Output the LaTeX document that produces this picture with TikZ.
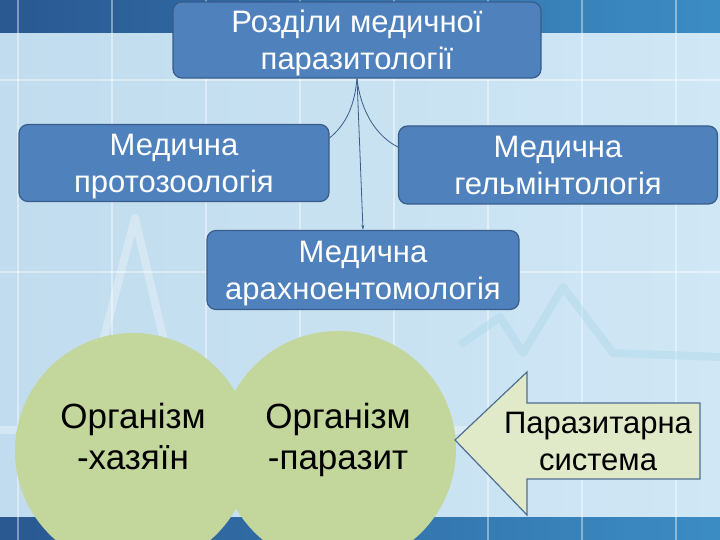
\documentclass[tikz,border=0pt]{standalone}
\usepackage{fontspec}
\setmainfont{Liberation Sans}
\usetikzlibrary{arrows.meta}

\definecolor{boxblue}{RGB}{79,129,189}
\definecolor{boxedge}{RGB}{56,93,138}
\definecolor{organgreen}{RGB}{195,214,155}
\definecolor{arrowfill}{RGB}{224,234,200}
\definecolor{arrowedge}{RGB}{79,110,146}
\definecolor{skylight}{RGB}{208,231,245}
\definecolor{skymid}{RGB}{192,220,238}
\definecolor{banddark}{RGB}{42,88,145}
\definecolor{bandlight}{RGB}{60,140,196}
\definecolor{wavecyan}{RGB}{170,215,232}

\tikzset{
  branch/.style={rectangle, rounded corners=9pt, fill=boxblue, draw=boxedge,
    line width=1.2pt, text=white, align=center, font=\fontsize{31}{37}\selectfont},
  organ/.style={circle, fill=organgreen, minimum size=236pt, inner sep=0pt},
  organtext/.style={align=center, font=\fontsize{35}{41}\selectfont},
  link/.style={draw=boxedge, line width=0.8pt}
}

\begin{document}
\begin{tikzpicture}[x=1pt, y=-1pt]
\useasboundingbox (0,0) rectangle (720,540);

  % background
  \shade[left color=skymid, right color=skylight] (0,0) rectangle (720,540);
  \shade[left color=banddark, right color=bandlight] (0,0) rectangle (720,33);
  \shade[left color=banddark, right color=bandlight] (0,517) rectangle (720,540);
  \foreach \x in {18, 112, ..., 720} {%
    \draw[white, opacity=0.4, line width=1.5pt] (\x,0) -- (\x,540);
  }
  \foreach \y in {80, 272} {%
    \draw[white, opacity=0.4, line width=1.5pt] (0,\y) -- (720,\y);
  }
  \draw[white, opacity=0.3, line width=8pt, line join=round]
    (0,430) -- (80,430) -- (135,218) -- (185,430) -- (480,430);
  \draw[wavecyan, opacity=0.4, line width=8pt, line join=round]
    (460,345) -- (500,317) -- (523,353) -- (563,287) -- (613,353) -- (720,357);

  % sections
  \node[branch, minimum width=368pt, minimum height=76pt] (root) at (357,40)
    {Розділи медичної\\\smash{паразитології}};
  \node[branch, minimum width=310pt, minimum height=77pt] (proto) at (174,163)
    {Медична\\\smash{протозоологія}};
  \node[branch, minimum width=319pt, minimum height=78pt] (helm) at (558,165)
    {Медична\\гельмінтологія};
  \node[branch, minimum width=312pt, minimum height=79pt] (arach) at (363,270)
    {Медична\\\smash{арахноентомологія}};

  \draw[link] (root.south) .. controls +(-3,32) and +(14,-12) .. ([yshift=25pt]proto.east);
  \draw[link] (root.south) .. controls +(4,35) and +(-20,-10) .. ([yshift=18pt]helm.west);
  \draw[link, -{Stealth[length=5pt, width=3pt]}] (root.south) -- (arach.north);

  % host and parasite
  \node[organ] (host) at (133,451) {};
  \node[organ] (parasite) at (338,449) {};
  \node[organtext] (hostlbl) at (133,436) {Організм\\-хазяїн};
  \node[organtext] (parasitelbl) at (338,436) {Організм\\\smash{-паразит}};

  \filldraw[fill=arrowfill, draw=arrowedge, line width=1.2pt]
    (455,440) -- (527,372) -- (527,403) -- (700,403) -- (700,479)
    -- (527,479) -- (527,515) -- cycle;
  \node[align=center, font=\fontsize{31}{37}\selectfont] (system) at (598,441)
    {Паразитарна\\система};
\end{tikzpicture}
\end{document}
